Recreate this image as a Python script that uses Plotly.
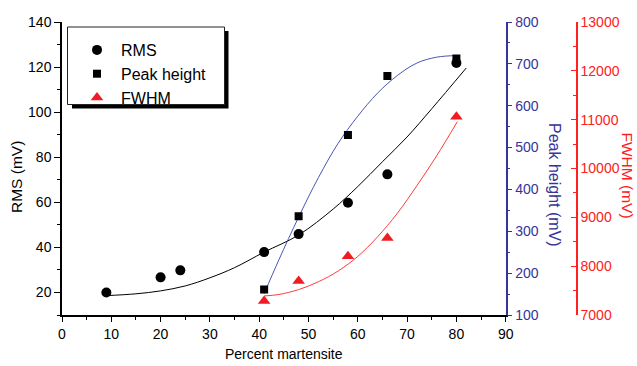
import plotly.graph_objects as go

# ---------------- data ----------------
rms_pct = [9, 20, 24, 41, 48, 58, 66, 80]
rms_mv = [20.0, 26.7, 29.8, 37.9, 45.9, 59.8, 72.4, 121.8]

peak_pct = [41, 48, 58, 66, 80]
peak_mv = [161, 336, 530, 671, 713]

fwhm_pct = [41, 48, 58, 66, 80]
fwhm_mv = [7287, 7697, 8203, 8579, 11059]

# fitted curves
rms_fit_x = [9, 15, 20, 25, 30, 35, 41, 48, 55, 60, 65, 70, 75, 82]
rms_fit_y = [18.6, 19.4, 20.7, 22.9, 26.5, 31.0, 37.9, 45.5, 57.0, 67.0, 78.0, 89.0, 101.5, 119.6]

peak_fit_x = [41, 44, 48, 52, 56, 60, 64, 68, 72, 76, 80.5]
peak_fit_y = [151, 232, 334, 428, 510, 575, 630, 672, 702, 716, 720]

fwhm_fit_x = [41, 44, 48, 52, 56, 60, 64, 68, 72, 76, 80.2]
fwhm_fit_y = [7390, 7420, 7520, 7680, 7900, 8200, 8600, 9080, 9650, 10260, 10960]

x_title = "Percent martensite"
y1_title = "RMS (mV)"
y2_title = "Peak height (mV)"
y3_title = "FWHM (mV)"

# ---------------- layout geometry ----------------
W, H = 637, 366
ML, MR, MT, MB = 62, 40, 22, 51
PW = W - ML - MR
PH = H - MT - MB


def px(xp):
    return (xp - ML) / PW


def py(yp):
    return (H - MB - yp) / PH


BLUE = "#34349a"
BLUE_LINE = "#4a55b0"
RED = "#ff2020"
RED_LINE = "#ff3a3a"
FONT = "Liberation Sans, Arial, sans-serif"

x_end = px(505.7)

fig = go.Figure()

# fit curves
fig.add_trace(go.Scatter(x=rms_fit_x, y=rms_fit_y, mode="lines", line=dict(color="black", width=1, shape="spline"),
                         showlegend=False, yaxis="y", hoverinfo="skip"))
fig.add_trace(go.Scatter(x=peak_fit_x, y=peak_fit_y, mode="lines", line=dict(color=BLUE_LINE, width=1, shape="spline"),
                         showlegend=False, yaxis="y2", hoverinfo="skip"))
fig.add_trace(go.Scatter(x=fwhm_fit_x, y=fwhm_fit_y, mode="lines", line=dict(color=RED_LINE, width=1, shape="spline"),
                         showlegend=False, yaxis="y3", hoverinfo="skip"))

# data markers
fig.add_trace(go.Scatter(x=rms_pct, y=rms_mv, mode="markers", name="RMS",
                         marker=dict(symbol="circle", size=10, color="black"), yaxis="y"))
fig.add_trace(go.Scatter(x=peak_pct, y=peak_mv, mode="markers", name="Peak height",
                         marker=dict(symbol="square", size=8, color="black"), yaxis="y2"))
fig.add_trace(go.Scatter(x=fwhm_pct, y=fwhm_mv, mode="markers", name="FWHM",
                         marker=dict(symbol="triangle-up", size=11, color="#f01c24"), yaxis="y3"))

tickfont = dict(family=FONT, size=14, color="black")

fig.update_layout(
    width=W, height=H,
    margin=dict(l=ML, r=MR, t=MT, b=MB, pad=0),
    paper_bgcolor="white", plot_bgcolor="white",
    font=dict(family=FONT),
    xaxis=dict(domain=[0, x_end], range=[0, 90], tick0=0, dtick=10, showgrid=False, zeroline=False,
               showline=True, linecolor="black", linewidth=1.5, ticks="outside", ticklen=5, tickwidth=1.2,
               tickcolor="black", tickfont=tickfont, automargin=False,
               minor=dict(dtick=5, ticks="outside", ticklen=3, tickcolor="black", tickwidth=1.2)),
    xaxis2=dict(overlaying="x", side="top", anchor="y", range=[0, 90], tick0=0, dtick=10, showgrid=False,
                zeroline=False, showline=True, linecolor="black", linewidth=1.5, ticks="inside", ticklen=5,
                tickwidth=1.2, tickcolor="black", showticklabels=False, automargin=False,
                minor=dict(dtick=5, ticks="inside", ticklen=3, tickcolor="black", tickwidth=1.2)),
    yaxis=dict(range=[10, 140], tick0=0, dtick=20, showgrid=False, zeroline=False, showline=True,
               linecolor="black", linewidth=1.5, ticks="outside", ticklen=6, tickwidth=1.2, tickcolor="black",
               tickfont=tickfont, automargin=False,
               minor=dict(dtick=10, ticks="outside", ticklen=3, tickcolor="black", tickwidth=1.2)),
    yaxis2=dict(overlaying="y", side="right", anchor="x", range=[100, 800], tick0=0, dtick=100, showgrid=False,
                zeroline=False, showline=True, linecolor=BLUE, linewidth=1.5, ticks="outside", ticklen=5,
                tickwidth=1.2, tickcolor=BLUE, tickfont=dict(family=FONT, size=14, color=BLUE), automargin=False,
                minor=dict(dtick=50, ticks="outside", ticklen=3, tickcolor=BLUE, tickwidth=1.2)),
    yaxis3=dict(overlaying="y", side="right", anchor="free", position=px(577), range=[7000, 13000], tick0=0,
                dtick=1000, showgrid=False, zeroline=False, showline=True, linecolor=RED, linewidth=1.5,
                ticks="inside", ticklen=5, tickwidth=1.2, tickcolor=RED, tickformat="d", automargin=False,
                tickfont=dict(family=FONT, size=14, color=RED),
                minor=dict(dtick=500, ticks="inside", ticklen=3, tickcolor=RED, tickwidth=1.2)),
    legend=dict(x=px(73), y=py(33), xanchor="left", yanchor="top", bgcolor="rgba(0,0,0,0)", borderwidth=0,
                font=dict(family=FONT, size=16, color="black"), tracegroupgap=0, itemwidth=38),
    showlegend=True,
)

# legend box with shadow
fig.add_shape(type="rect", xref="paper", yref="paper", x0=px(72), x1=px(228.5), y0=py(108.5), y1=py(31),
              fillcolor="black", line=dict(width=0), layer="above")
fig.add_shape(type="rect", xref="paper", yref="paper", x0=px(67.5), x1=px(224.5), y0=py(104.5), y1=py(27),
              fillcolor="white", line=dict(color="#222222", width=1), layer="above")

# axis titles
fig.add_annotation(text=x_title, xref="paper", yref="paper", x=px(284), y=py(354), showarrow=False,
                   xanchor="center", yanchor="middle", font=dict(family=FONT, size=14, color="black"))
fig.add_annotation(text=y1_title, xref="paper", yref="paper", x=px(16), y=py(177), showarrow=False,
                   textangle=-90, xanchor="center", yanchor="middle",
                   font=dict(family=FONT, size=15.5, color="black"))
fig.add_annotation(text=y2_title, xref="paper", yref="paper", x=px(555), y=py(185), showarrow=False,
                   textangle=90, xanchor="center", yanchor="middle",
                   font=dict(family=FONT, size=16, color=BLUE))
fig.add_annotation(text=y3_title, xref="paper", yref="paper", x=px(627.5), y=py(175), showarrow=False,
                   textangle=90, xanchor="center", yanchor="middle",
                   font=dict(family=FONT, size=15.5, color=RED))

fig.write_html("out.html", post_script="document.body.style.margin='0px';",
               config={"displayModeBar": False})
